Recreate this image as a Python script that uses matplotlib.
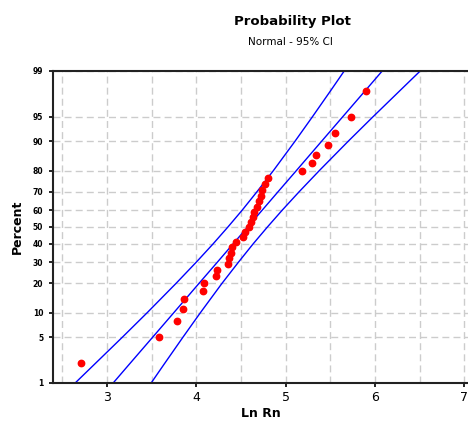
import numpy as np
import matplotlib
matplotlib.use("Agg")
import matplotlib.pyplot as plt
from statistics import NormalDist

# data points: ln Rn values and their plotted percent
ln_rn = [2.71, 3.58, 3.78, 3.85, 3.86, 4.08, 4.09, 4.22, 4.23, 4.36, 4.37,
         4.39, 4.40, 4.44, 4.52, 4.55, 4.59, 4.61, 4.63, 4.65, 4.68, 4.70,
         4.72, 4.74, 4.77, 4.80, 5.18, 5.30, 5.34, 5.47, 5.55, 5.73, 5.90]
pct = [2.1, 5.1, 8.1, 11.1, 14.1, 17.1, 20.1, 23.1, 26.0, 29.0, 32.0,
       35.0, 38.0, 41.0, 44.0, 47.0, 50.0, 53.0, 56.0, 59.0, 62.0, 65.0,
       68.0, 71.0, 74.0, 76.9, 79.9, 82.9, 85.9, 88.9, 91.9, 94.9, 97.9]

# fitted line and 95% CI band, read at percent levels
line_pct = [1, 2, 5, 10, 20, 30, 40, 50, 60, 70, 80, 90, 95, 98, 99]
fit_x = [3.070, 3.246, 3.511, 3.746, 4.030, 4.236, 4.411, 4.575, 4.739,
         4.914, 5.120, 5.404, 5.639, 5.904, 6.080]
ci_left = [2.645, 2.856, 3.172, 3.448, 3.773, 4.000, 4.187, 4.354, 4.515,
           4.678, 4.863, 5.106, 5.300, 5.514, 5.655]
ci_right = [3.495, 3.636, 3.850, 4.044, 4.287, 4.472, 4.635, 4.796, 4.963,
            5.150, 5.377, 5.702, 5.978, 6.294, 6.505]

yticks = [1, 5, 10, 20, 30, 40, 50, 60, 70, 80, 90, 95, 99]
xticks = [3, 4, 5, 6, 7]

nd = NormalDist()
_ppf = np.vectorize(lambda v: nd.inv_cdf(v / 100.0), otypes=[float])
_cdf = np.vectorize(lambda v: nd.cdf(v) * 100.0, otypes=[float])

def fwd(p):
    p = np.clip(np.asarray(p, dtype=float), 1e-4, 100 - 1e-4)
    return _ppf(p)

def inv(z):
    return _cdf(np.asarray(z, dtype=float))

fig = plt.figure(figsize=(4.68, 4.21), dpi=100)
ax = fig.add_axes([53 / 468, 38 / 421, 1 - 53 / 468, 312 / 421])
ax.set_yscale("function", functions=(fwd, inv))

# grid
for gx in np.arange(2.5, 7.01, 0.5):
    ax.axvline(gx, color="#cccccc", lw=1, ls=(0, (5, 3)), zorder=0)
for gy in yticks:
    ax.axhline(gy, color="#cccccc", lw=1, ls=(0, (5, 3)), zorder=0)

ax.plot(fit_x, line_pct, color="#0000ff", lw=1, zorder=2)
ax.plot(ci_left, line_pct, color="#0000ff", lw=1, zorder=2)
ax.plot(ci_right, line_pct, color="#0000ff", lw=1, zorder=2)
ax.plot(ln_rn, pct, "o", color="#ff0000", ms=4.6, mec="#ff0000", zorder=3)

ax.set_xlim(2.397, 7.04)
ax.set_ylim(1, 99)
ax.set_xticks(xticks)
ax.set_yticks(yticks)
ax.set_yticklabels([str(t) for t in yticks], fontsize=5.5, fontweight="bold")
ax.yaxis.set_minor_locator(matplotlib.ticker.NullLocator())
ax.xaxis.set_minor_locator(matplotlib.ticker.NullLocator())
ax.tick_params(axis="x", labelsize=9, length=3, width=1.2, pad=3)
ax.tick_params(axis="y", length=3, width=1.2, pad=4)

for s in ["left", "bottom", "top"]:
    ax.spines[s].set_linewidth(1.5)
    ax.spines[s].set_color("#222222")
ax.spines["right"].set_visible(False)

ax.set_xlabel("Ln Rn", fontsize=9, fontweight="bold", labelpad=2)
ax.set_ylabel("Percent", fontsize=9, fontweight="bold", labelpad=6)

fig.text(292 / 468, 1 - 22 / 421, "Probability Plot", ha="center", va="center",
         fontsize=9.5, fontweight="bold")
fig.text(290 / 468, 1 - 42 / 421, "Normal - 95% CI", ha="center", va="center",
         fontsize=7.5)

fig.savefig("out.png", dpi=100)
